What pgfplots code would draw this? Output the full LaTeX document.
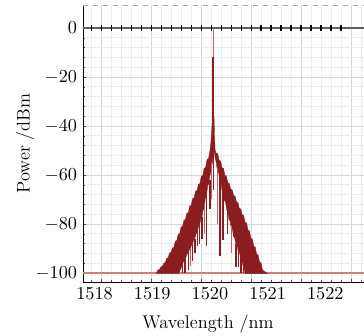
\documentclass[border=0pt]{standalone}
\usepackage{pgfplots}
\pgfplotsset{compat=1.18}
\definecolor{dred}{RGB}{139,28,32}
\definecolor{lred}{RGB}{196,100,100}
\definecolor{basered}{RGB}{208,125,125}
\definecolor{zline}{RGB}{95,95,95}
\begin{document}
\begin{tikzpicture}
\begin{axis}[
  scale only axis,
  width=168.6pt, height=166.2pt,
  xmin=1517.80, xmax=1522.67,
  ymin=-103.7, ymax=9.4,
  axis x line*=bottom, axis y line*=left,
  axis line style={black, line width=0.6pt},
  xtick={1518.121,1518.986,1519.851,1520.716,1521.581,1522.446},
  xticklabels={},
  minor xtick={1517.948,1518.294,1518.467,1518.640,1518.813,1519.159,1519.332,1519.505,1519.678,1520.024,1520.197,1520.370,1520.543,1520.889,1521.062,1521.235,1521.408,1521.754,1521.927,1522.100,1522.273,1522.619},
  extra x ticks={1518,1519,1520,1521,1522},
  extra x tick labels={$1518$,$1519$,$1520$,$1521$,$1522$},
  extra x tick style={grid=none, major tick length=0pt},
  ytick={-100,-80,-60,-40,-20,0},
  minor y tick num=4,
  grid=both,
  major grid style={gray!32, line width=0.5pt},
  minor grid style={gray!14, line width=0.5pt},
  major tick length=2pt, minor tick length=1.5pt,
  tick style={black!70},
  tick label style={font=\fontsize{11}{13}\selectfont},
  label style={font=\fontsize{11}{13}\selectfont},
  xlabel={Wavelength /nm},
  ylabel={Power /dBm},
  x label style={at={(axis description cs:0.445,0)}, anchor=north, yshift=-16pt},
  y label style={at={(axis description cs:-0.206,0.5)}, anchor=center, rotate=0},
  clip=true,
]
\draw[gray!70, dashed, line width=0.5pt] (rel axis cs:0,1) -- (rel axis cs:1,1);
% baseline
\addplot[basered, line width=1.5pt] coordinates {(1517.80,-100) (1522.67,-100)};
% zero reference line
\addplot[zline, line width=1.4pt] coordinates {(1517.80,0) (1522.67,0)};
\addplot[only marks, mark=|, mark size=1.6pt, mark options={black, line width=0.9pt}] coordinates {
(1517.948,0) (1518.121,0) (1518.294,0) (1518.467,0) (1518.640,0) (1518.813,0) (1518.986,0)
(1519.159,0) (1519.332,0) (1519.505,0) (1519.678,0) (1519.851,0) (1520.024,0) (1520.197,0)
(1520.370,0) (1520.543,0) (1520.716,0) (1520.889,0) (1521.062,0) (1521.235,0) (1521.408,0)
(1521.581,0) (1521.754,0) (1521.927,0) (1522.100,0) (1522.273,0)};
% spectrum envelope
\addplot[fill=dred, draw=dred, line width=0.2pt] coordinates {
(1519.07,-100) (1519.10,-98.8) (1519.125,-98.6) (1519.15,-97.5) (1519.175,-97.3)
(1519.20,-96.0) (1519.225,-95.8) (1519.25,-94.0) (1519.275,-93.8) (1519.30,-91.8)
(1519.325,-91.6) (1519.35,-89.8) (1519.375,-89.6) (1519.40,-87.0) (1519.425,-86.8)
(1519.45,-84.2) (1519.475,-84.0) (1519.50,-81.2) (1519.525,-81.0) (1519.55,-78.4)
(1519.575,-78.2) (1519.60,-75.6) (1519.625,-75.4) (1519.65,-72.6) (1519.675,-72.4)
(1519.70,-69.6) (1519.725,-69.4) (1519.75,-66.6) (1519.775,-66.4) (1519.80,-63.8)
(1519.825,-63.6) (1519.85,-60.5) (1519.875,-60.3) (1519.90,-57.2) (1519.925,-57.0)
(1519.95,-53.6) (1519.975,-53.4) (1520.00,-50.0) (1520.015,-47) (1520.025,-44)
(1520.035,-40) (1520.045,-36.5) (1520.055,-35) (1520.07,-36)
(1520.075,-40) (1520.08,-45) (1520.09,-50) (1520.11,-51.1) (1520.135,-51.3)
(1520.16,-54.1) (1520.185,-54.3) (1520.21,-57.1) (1520.235,-57.3) (1520.26,-60.2)
(1520.285,-60.4) (1520.31,-63.2) (1520.335,-63.4) (1520.36,-65.8) (1520.385,-66.0)
(1520.41,-68.4) (1520.435,-68.6) (1520.46,-71.0) (1520.485,-71.2) (1520.51,-73.7)
(1520.535,-73.9) (1520.56,-76.3) (1520.585,-76.5) (1520.61,-79.4) (1520.635,-79.6)
(1520.66,-82.6) (1520.685,-82.8) (1520.71,-85.9) (1520.735,-86.1) (1520.76,-89.2)
(1520.785,-89.4) (1520.81,-92.4) (1520.835,-92.6) (1520.86,-95.6) (1520.885,-95.8)
(1520.91,-98.8) (1520.935,-99.2) (1520.96,-99.6) (1521.0,-100.3)
(1520.61,-100.3) (1520.59,-97.5) (1520.57,-96.8) (1520.55,-94.3) (1520.53,-93.6)
(1520.51,-91.5) (1520.49,-91.0) (1520.47,-88.7) (1520.45,-88.2) (1520.43,-85.8)
(1520.41,-85.2) (1520.39,-82.2) (1520.37,-81.8) (1520.35,-78.8) (1520.33,-78.2)
(1520.31,-74.8) (1520.29,-74.3) (1520.27,-70.9) (1520.25,-70.5) (1520.23,-66.9)
(1520.21,-66.5) (1520.19,-62.9) (1520.17,-62.5) (1520.15,-58.9) (1520.13,-58.4)
(1520.11,-55.0) (1520.09,-53) (1520.075,-50.5)
(1520.06,-50.5) (1520.05,-53) (1520.04,-55.5) (1520.025,-56.5) (1520.01,-59.5)
(1519.995,-60.5) (1519.98,-63.5) (1519.96,-64.5) (1519.94,-68.5) (1519.92,-69.5)
(1519.90,-73.5) (1519.88,-74.5) (1519.86,-77.5) (1519.84,-78.2) (1519.82,-80.5)
(1519.80,-81.2) (1519.78,-83.2) (1519.76,-84.0) (1519.74,-85.8) (1519.72,-86.4)
(1519.70,-88.2) (1519.68,-88.6) (1519.66,-90.2) (1519.64,-90.7) (1519.62,-92.0)
(1519.60,-92.5) (1519.58,-93.8) (1519.56,-94.2) (1519.54,-95.5) (1519.52,-96.5)
(1519.50,-98.0) (1519.48,-99.0) (1519.46,-100.3) (1519.07,-100.3)};
% dark spikes
\addplot[dred, line width=0.8pt, unbounded coords=jump] coordinates {
(1519.53,-96) (1519.53,-100) (1519.53,nan)
(1519.57,-94) (1519.57,-100) (1519.57,nan)
(1519.63,-91) (1519.63,-99) (1519.63,nan)
(1519.70,-88) (1519.70,-95) (1519.70,nan)
(1519.74,-86) (1519.74,-92) (1519.74,nan)
(1519.79,-82.5) (1519.79,-89) (1519.79,nan)
(1519.82,-80.5) (1519.82,-88) (1519.82,nan)
(1519.86,-77) (1519.86,-86) (1519.86,nan)
(1519.944,-68) (1519.944,-89) (1519.944,nan)
(1520.00,-62) (1520.00,-74) (1520.00,nan)
(1520.06,-36) (1520.06,-66) (1520.06,nan)
(1520.175,-61) (1520.175,-93) (1520.175,nan)
(1520.227,-66) (1520.227,-86.5) (1520.227,nan)
(1520.30,-74) (1520.30,-84) (1520.30,nan)
(1520.45,-88) (1520.45,-97.5) (1520.45,nan)
(1520.49,-90) (1520.49,-97.5) (1520.49,nan)
(1520.54,-93) (1520.54,-100) (1520.54,nan)
(1520.58,-97) (1520.58,-100)};
% light spikes
\addplot[lred, line width=0.6pt, unbounded coords=jump] coordinates {
(1519.90,-72) (1519.90,-84) (1519.90,nan)
(1520.13,-57) (1520.13,-80) (1520.13,nan)
(1520.37,-81) (1520.37,-92) (1520.37,nan)
(1519.66,-90) (1519.66,-97) (1519.66,nan)
(1520.03,-55) (1520.03,-70)};
% central peak
\addplot[lred, line width=0.7pt] coordinates {(1520.06,0) (1520.06,-12)};
\addplot[dred, line width=1.3pt] coordinates {(1520.06,-12) (1520.06,-38)};
\end{axis}
\pgfresetboundingbox
\path ([xshift=-49.8pt, yshift=-31.8pt]current axis.south west) rectangle ([yshift=3pt]current axis.north east);
\end{tikzpicture}
\end{document}
